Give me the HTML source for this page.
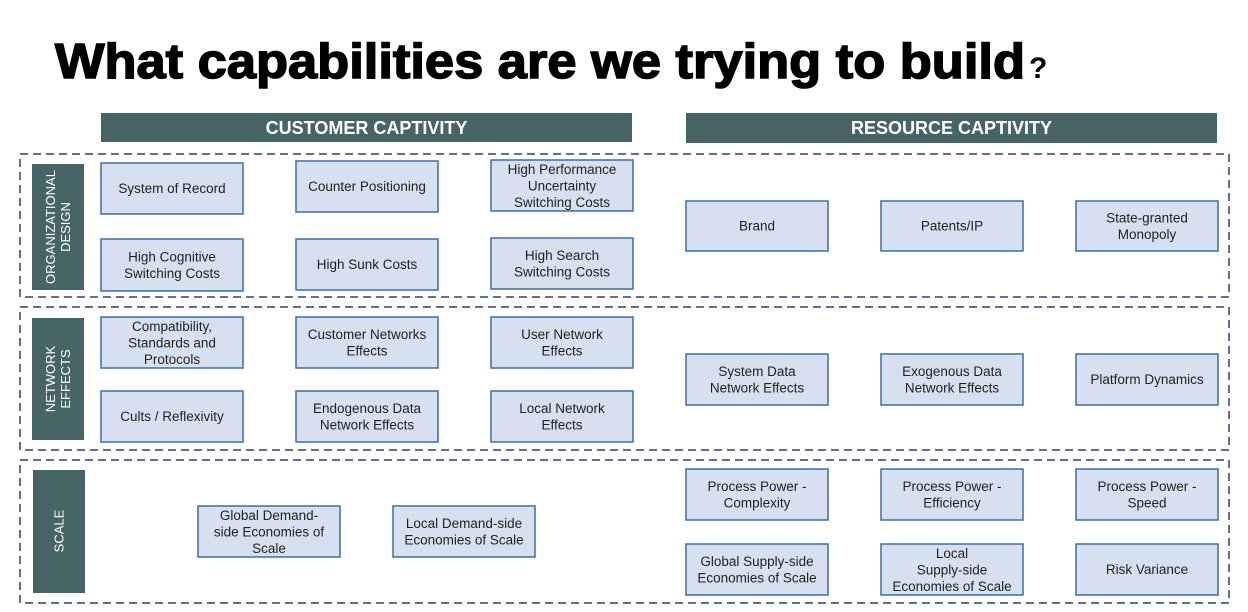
<!DOCTYPE html>
<html><head><meta charset="utf-8"><style>
html,body{margin:0;padding:0;background:#fff;width:1248px;height:612px;overflow:hidden}
svg{display:block}
.b{fill:#d6e0f0;stroke:#3e6e9c;stroke-width:1.5}
.t{font-family:"Liberation Sans",Arial,sans-serif;font-size:13.5px;fill:#222;text-anchor:middle}
.h{fill:#476467}
.ht{font-family:"Liberation Sans",Arial,sans-serif;font-size:18px;font-weight:bold;fill:#fff;text-anchor:middle}
.s{font-family:"Liberation Sans",Arial,sans-serif;font-size:13px;fill:#fff;text-anchor:middle}
.d{fill:none;stroke:#3c3c6a;stroke-width:1.5;stroke-dasharray:8 5}
</style></head><body>
<svg width="1248" height="612" viewBox="0 0 1248 612" xmlns="http://www.w3.org/2000/svg">
<text x="55" y="78" font-family="Liberation Sans, Arial, sans-serif" font-weight="bold" font-size="49" textLength="970" lengthAdjust="spacingAndGlyphs" fill="#000" stroke="#000" stroke-width="1.5">What capabilities are we trying to build</text>
<text x="1029" y="78" font-family="Liberation Sans, Arial, sans-serif" font-weight="bold" font-size="30" fill="#000">?</text>

<rect class="h" x="101" y="113" width="531" height="29"/>
<text class="ht" x="366.5" y="134">CUSTOMER CAPTIVITY</text>
<rect class="h" x="686" y="113" width="531" height="30"/>
<text class="ht" x="951.5" y="134">RESOURCE CAPTIVITY</text>

<rect class="d" x="20" y="154" width="1209" height="143"/>
<rect class="d" x="20" y="307" width="1209" height="143"/>
<rect class="d" x="20" y="460" width="1209" height="143"/>

<rect class="h" x="32" y="164" width="52" height="126"/>
<text class="s" transform="translate(58,227) rotate(-90)"><tspan x="0" y="-3">ORGANIZATIONAL</tspan><tspan x="0" y="12">DESIGN</tspan></text>
<rect class="h" x="32" y="318" width="52" height="122"/>
<text class="s" transform="translate(58,379) rotate(-90)"><tspan x="0" y="-3">NETWORK</tspan><tspan x="0" y="12">EFFECTS</tspan></text>
<rect class="h" x="33" y="470" width="52" height="123"/>
<text class="s" transform="translate(59,531) rotate(-90)"><tspan x="0" y="4.5">SCALE</tspan></text>

<rect class="b" x="101" y="163" width="142" height="51"/><text class="t" x="172" y="193">System of Record</text>
<rect class="b" x="296" y="161" width="142" height="51"/><text class="t" x="367" y="191">Counter Positioning</text>
<rect class="b" x="491" y="160" width="142" height="51"/><text class="t" x="562" y="174">High Performance<tspan x="562" y="190.5">Uncertainty</tspan><tspan x="562" y="207">Switching Costs</tspan></text>
<rect class="b" x="101" y="239" width="142" height="52"/><text class="t" x="172" y="261.5">High Cognitive<tspan x="172" y="278">Switching Costs</tspan></text>
<rect class="b" x="296" y="239" width="142" height="51"/><text class="t" x="367" y="269">High Sunk Costs</text>
<rect class="b" x="491" y="238" width="142" height="51"/><text class="t" x="562" y="260">High Search<tspan x="562" y="276.5">Switching Costs</tspan></text>
<rect class="b" x="686" y="201" width="142" height="50"/><text class="t" x="757" y="230.5">Brand</text>
<rect class="b" x="881" y="201" width="142" height="50"/><text class="t" x="952" y="230.5">Patents/IP</text>
<rect class="b" x="1076" y="201" width="142" height="50"/><text class="t" x="1147" y="222.5">State-granted<tspan x="1147" y="239">Monopoly</tspan></text>

<rect class="b" x="101" y="317" width="142" height="51"/><text class="t" x="172" y="331">Compatibility,<tspan x="172" y="347.5">Standards and</tspan><tspan x="172" y="364">Protocols</tspan></text>
<rect class="b" x="296" y="317" width="142" height="51"/><text class="t" x="367" y="339">Customer Networks<tspan x="367" y="355.5">Effects</tspan></text>
<rect class="b" x="491" y="317" width="142" height="51"/><text class="t" x="562" y="339">User Network<tspan x="562" y="355.5">Effects</tspan></text>
<rect class="b" x="101" y="391" width="142" height="51"/><text class="t" x="172" y="421">Cults / Reflexivity</text>
<rect class="b" x="296" y="391" width="142" height="51"/><text class="t" x="367" y="413">Endogenous Data<tspan x="367" y="429.5">Network Effects</tspan></text>
<rect class="b" x="491" y="391" width="142" height="51"/><text class="t" x="562" y="413">Local Network<tspan x="562" y="429.5">Effects</tspan></text>
<rect class="b" x="686" y="354" width="142" height="51"/><text class="t" x="757" y="376">System Data<tspan x="757" y="392.5">Network Effects</tspan></text>
<rect class="b" x="881" y="354" width="142" height="51"/><text class="t" x="952" y="376">Exogenous Data<tspan x="952" y="392.5">Network Effects</tspan></text>
<rect class="b" x="1076" y="354" width="142" height="51"/><text class="t" x="1147" y="384">Platform Dynamics</text>

<rect class="b" x="198" y="506" width="142" height="51"/><text class="t" x="269" y="520">Global Demand-<tspan x="269" y="536.5">side Economies of</tspan><tspan x="269" y="553">Scale</tspan></text>
<rect class="b" x="393" y="506" width="142" height="51"/><text class="t" x="464" y="528">Local Demand-side<tspan x="464" y="544.5">Economies of Scale</tspan></text>
<rect class="b" x="686" y="469" width="142" height="51"/><text class="t" x="757" y="491">Process Power -<tspan x="757" y="507.5">Complexity</tspan></text>
<rect class="b" x="881" y="469" width="142" height="51"/><text class="t" x="952" y="491">Process Power -<tspan x="952" y="507.5">Efficiency</tspan></text>
<rect class="b" x="1076" y="469" width="142" height="51"/><text class="t" x="1147" y="491">Process Power -<tspan x="1147" y="507.5">Speed</tspan></text>
<rect class="b" x="686" y="544" width="142" height="51"/><text class="t" x="757" y="566">Global Supply-side<tspan x="757" y="582.5">Economies of Scale</tspan></text>
<rect class="b" x="881" y="544" width="142" height="51"/><text class="t" x="952" y="558">Local<tspan x="952" y="574.5">Supply-side</tspan><tspan x="952" y="591">Economies of Scale</tspan></text>
<rect class="b" x="1076" y="544" width="142" height="51"/><text class="t" x="1147" y="574">Risk Variance</text>
</svg>
</body></html>
